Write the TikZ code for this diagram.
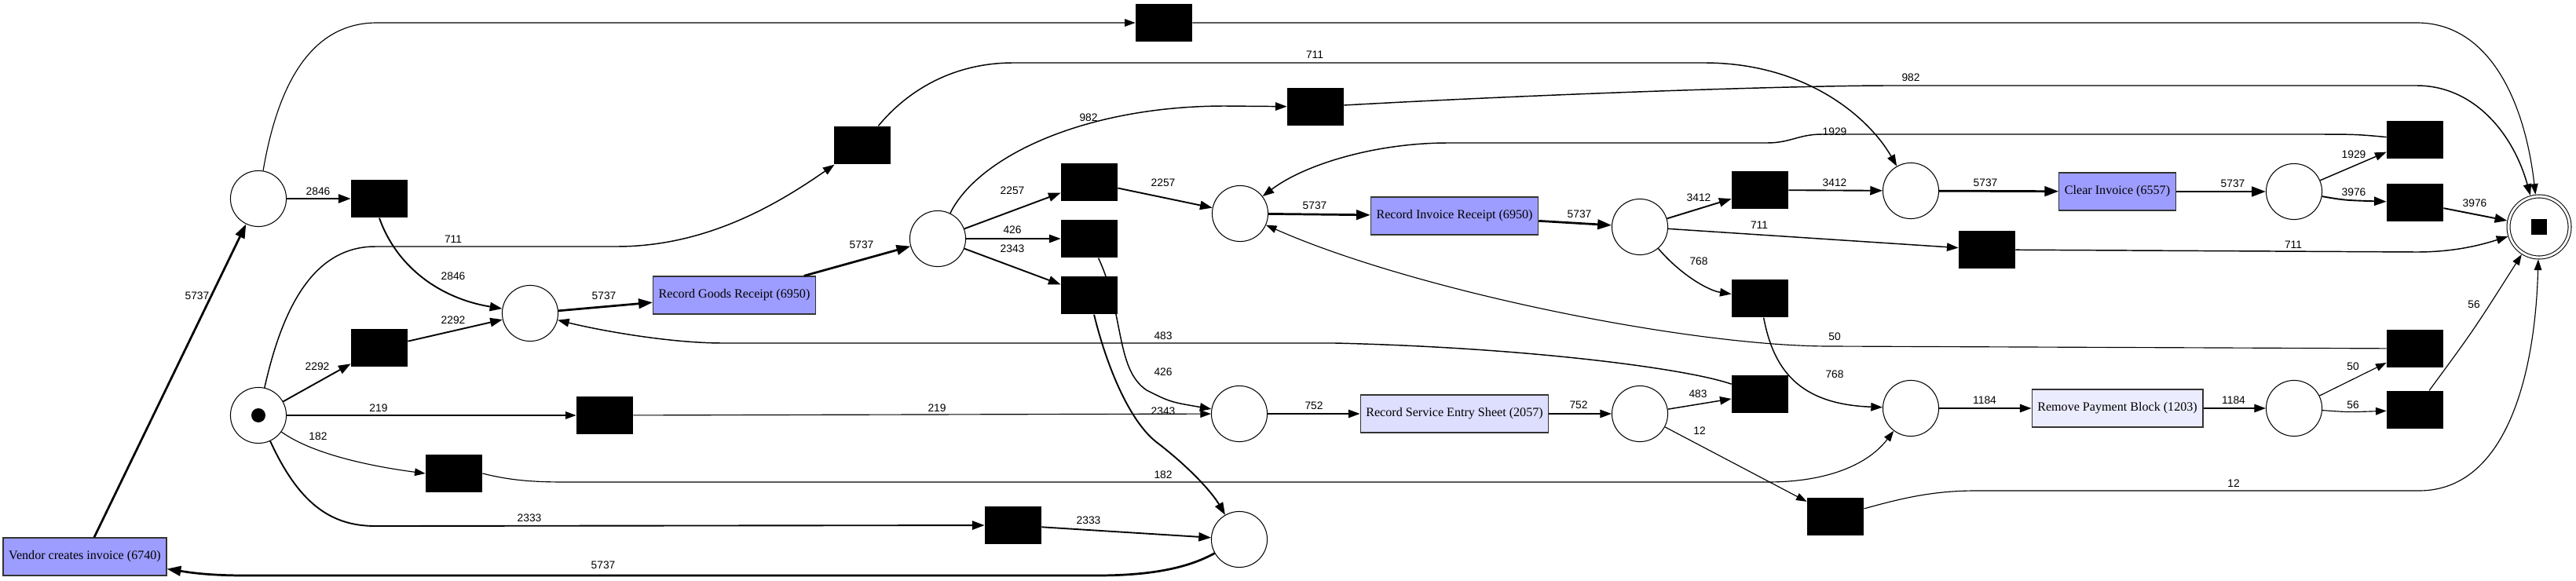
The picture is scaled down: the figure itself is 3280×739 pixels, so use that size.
\documentclass[tikz,border=0pt]{standalone}
\usepackage{fontspec}
\setmainfont{Liberation Serif}
\newfontfamily\arcsans{Liberation Sans}
\usetikzlibrary{arrows.meta}
\definecolor{actdark}{RGB}{157,157,255}
\definecolor{actmid}{RGB}{222,222,255}
\definecolor{actpale}{RGB}{236,236,255}

\begin{document}
\begin{tikzpicture}[x=0.4781pt, y=-0.4781pt,
  pl/.style={draw, circle, line width=0.5pt, minimum size=34pt, inner sep=0pt},
  tau/.style={fill=black, minimum width=34.4pt, minimum height=23.2pt, inner sep=0pt},
  act/.style={draw=black!80, line width=0.6pt, minimum height=23pt, inner xsep=3.4pt, inner ysep=0pt, font=\fontsize{7.7}{9}\selectfont},
  lab/.style={font=\arcsans\fontsize{6.6}{8}\selectfont, inner sep=0pt},
  rare/.style={-{Triangle[length=6.5pt,width=4.6pt]}, line width=0.55pt},
  some/.style={-{Triangle[length=7pt,width=5pt]}, line width=0.7pt},
  many/.style={-{Triangle[length=7.5pt,width=5.4pt]}, line width=0.9pt},
  main/.style={-{Triangle[length=8.5pt,width=6pt]}, line width=1.3pt}]
\useasboundingbox (0,0) rectangle (3280,739);
% places
\node[pl] (src) at (329,529) {};
\node[fill=black, circle, minimum size=8.6pt, inner sep=0pt] (token) at (src) {};
\node[pl] (pA) at (329,253) {};
\node[pl] (pB) at (675,399) {};
\node[pl] (pC) at (1194,304) {};
\node[pl] (pD) at (1579,272) {};
\node[pl] (pE) at (2088,289) {};
\node[pl] (pF) at (2433,243) {};
\node[pl] (pG) at (2921,244) {};
\node[pl] (pH) at (1578,527) {};
\node[pl] (pI) at (2088,527) {};
\node[pl] (pJ) at (2433,520) {};
\node[pl] (pK) at (2921,520) {};
\node[pl] (pL) at (1578,687) {};
\node[draw, circle, line width=0.5pt, double, double distance=1.4pt, minimum size=37.3pt, inner sep=0pt, outer sep=1.2pt] (sink) at (3233,289) {};
\node[fill=black, minimum size=9.2pt, inner sep=0pt] (sinkmark) at (sink) {};
% activities
\node[act, fill=actdark] (vendor) at (108,709) {Vendor creates invoice (6740)};
\node[act, fill=actdark] (rgr) at (935,376) {Record Goods Receipt (6950)};
\node[act, fill=actdark] (rir) at (1852,275) {Record Invoice Receipt (6950)};
\node[act, fill=actdark] (clear) at (2696,244) {Clear Invoice (6557)};
\node[act, fill=actmid] (rses) at (1852,527) {Record Service Entry Sheet (2057)};
\node[act, fill=actpale] (rpb) at (2696,520) {Remove Payment Block (1203)};
% silent transitions
\node[tau] (t1) at (1482,29) {};
\node[tau] (t2) at (483,253) {};
\node[tau] (t3) at (483,443) {};
\node[tau] (t4) at (770,529) {};
\node[tau] (t5) at (578,603) {};
\node[tau] (t6) at (1290,669) {};
\node[tau] (t7) at (1098,185) {};
\node[tau] (t8) at (1387,232) {};
\node[tau] (t9) at (1387,304) {};
\node[tau] (t10) at (1387,376) {};
\node[tau] (t11) at (1675,136) {};
\node[tau] (t12) at (2241,242) {};
\node[tau] (t13) at (2530,318) {};
\node[tau] (t14) at (2241,380) {};
\node[tau] (t15) at (3075,178) {};
\node[tau] (t16) at (3075,258) {};
\node[tau] (t17) at (3075,522) {};
\node[tau] (t18) at (3075,444) {};
\node[tau] (t19) at (2337,658) {};
\node[tau] (t20) at (2241,502) {};
% arcs
\draw[main] (vendor) -- (pA) node[lab] at (251,377) {5737};
\draw[many] (pA) -- (t2) node[lab] at (405,244) {2846};
\draw[many] (t2.south) .. controls (505,340) and (560,380) .. (pB) node[lab] at (577,352) {2846};
\draw[many] (src) -- (t3) node[lab] at (404,467) {2292};
\draw[many] (t3) -- (pB) node[lab] at (577,408) {2292};
\draw[rare] (src) -- (t4) node[lab] at (482,520) {219};
\draw[rare] (t4) -- (pH) node[lab] at (1193,520) {219};
\draw[rare] (src) .. controls (400,580) and (480,595) .. (t5.west) node[lab] at (405,556) {182};
\draw[rare] (t5.east) .. controls (650,612) and (680,614) .. (720,614) -- (2250,614) .. controls (2330,614) and (2380,590) .. (pJ) node[lab] at (1481,605) {182};
\draw[many] (src) .. controls (380,640) and (420,670) .. (478,670) -- (t6) node[lab] at (674,660) {2333};
\draw[many] (t6) -- (pL) node[lab] at (1386,663) {2333};
\draw[some] (src) .. controls (360,390) and (400,314) .. (478,314) -- (785,314) .. controls (900,314) and (990,260) .. (t7) node[lab] at (577,305) {711};
\draw[some] (t7) .. controls (1160,110) and (1220,80) .. (1290,80) -- (2170,80) .. controls (2300,80) and (2380,150) .. (pF) node[lab] at (1674,70) {711};
\draw[rare] (pA) .. controls (355,100) and (400,29) .. (480,29) -- (t1);
\draw[rare] (t1) -- (3077,29) .. controls (3170,29) and (3215,130) .. (sink);
\draw[main] (pB) -- (rgr) node[lab] at (769,377) {5737};
\draw[main] (rgr) -- (pC) node[lab] at (1097,312) {5737};
\draw[many] (pC) -- (t8) node[lab] at (1289,243) {2257};
\draw[some] (pC) -- (t9) node[lab] at (1289,293) {426};
\draw[many] (pC) -- (t10) node[lab] at (1289,317) {2343};
\draw[some] (pC) .. controls (1245,200) and (1380,135) .. (1560,135) -- (t11) node[lab] at (1386,150) {982};
\draw[many] (t8) -- (pD) node[lab] at (1481,233) {2257};
\draw[some] (t9) .. controls (1432,400) and (1420,470) .. (1460,497) .. controls (1490,512) .. (pH) node[lab] at (1481,474) {426};
\draw[many] (t10) .. controls (1410,470) and (1440,540) .. (1475,565) .. controls (1520,600) and (1545,630) .. (pL) node[lab] at (1481,524) {2343};
\draw[some] (t11) .. controls (2000,118) and (2300,109) .. (2405,109) -- (3077,109) .. controls (3150,109) and (3200,170) .. (sink) node[lab] at (2433,99) {982};
\draw[main] (pD) -- (rir) node[lab] at (1674,262) {5737};
\draw[main] (rir) -- (pE) node[lab] at (2011,273) {5737};
\draw[many] (pE) -- (t12) node[lab] at (2163,252) {3412};
\draw[some] (pE) -- (t13) node[lab] at (2240,287) {711};
\draw[some] (pE) .. controls (2140,350) and (2175,370) .. (t14) node[lab] at (2163,333) {768};
\draw[many] (t12) -- (pF) node[lab] at (2336,233) {3412};
\draw[main] (pF) -- (clear) node[lab] at (2528,233) {5737};
\draw[main] (clear) -- (pG) node[lab] at (2843,234) {5737};
\draw[some] (pG) -- (t15) node[lab] at (2997,197) {1929};
\draw[many] (pG) .. controls (2985,255) .. (t16) node[lab] at (2997,245) {3976};
\draw[many] (t16) -- (sink) node[lab] at (3151,259) {3976};
\draw[some] (t15) .. controls (3000,171) .. (2933,171) -- (2320,171) .. controls (2290,171) and (2280,182) .. (2250,182) -- (1844,182) .. controls (1750,182) and (1660,210) .. (pD) node[lab] at (2336,168) {1929};
\draw[some] (t13) -- (3077,321) .. controls (3130,321) and (3165,310) .. (sink) node[lab] at (2920,312) {711};
\draw[some] (t14) .. controls (2258,470) and (2290,515) .. (pJ) node[lab] at (2336,477) {768};
\draw[some] (pH) -- (rses) node[lab] at (1673,517) {752};
\draw[some] (rses) -- (pI) node[lab] at (2010,516) {752};
\draw[some] (pI) -- (t20) node[lab] at (2162,502) {483};
\draw[rare] (pI) -- (t19) node[lab] at (2164,549) {12};
\draw[some] (t20) .. controls (2150,470) and (1950,443) .. (1700,437) -- (921,437) .. controls (850,437) and (760,420) .. (pB) node[lab] at (1481,428) {483};
\draw[some] (pJ) -- (rpb) node[lab] at (2527,510) {1184};
\draw[some] (rpb) -- (pK) node[lab] at (2844,510) {1184};
\draw[rare] (pK) -- (t18) node[lab] at (2996,467) {50};
\draw[rare] (pK) .. controls (2990,525) .. (t17) node[lab] at (2996,516) {56};
\draw[rare] (t18) -- (2330,441) .. controls (2150,441) and (1800,370) .. (pD) node[lab] at (2336,429) {50};
\draw[rare] (t17) .. controls (3150,420) .. (sink) node[lab] at (3150,388) {56};
\draw[rare] (t19) .. controls (2420,635) and (2460,625) .. (2516,625) -- (3080,625) .. controls (3190,625) and (3228,480) .. (sink) node[lab] at (2844,616) {12};
\draw[main] (pL) .. controls (1510,725) and (1460,733) .. (1396,733) -- (312,733) .. controls (260,733) and (235,728) .. (vendor) node[lab] at (768,720) {5737};
\end{tikzpicture}
\end{document}
